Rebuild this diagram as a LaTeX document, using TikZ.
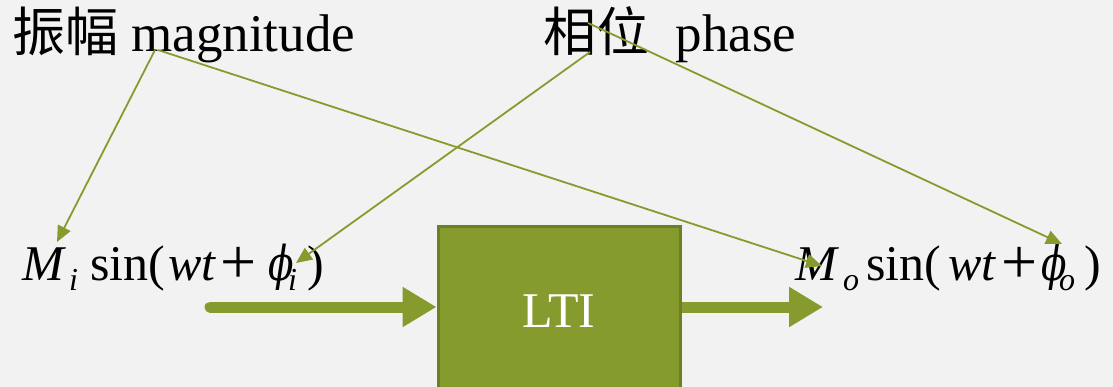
\documentclass[tikz,border=0pt]{standalone}
\usepackage{fontspec}
\setmainfont{Liberation Serif}
\newfontfamily\cjk{Noto Sans CJK SC}
\newfontfamily\dvs[FakeStretch=0.78]{DejaVu Serif}
\usetikzlibrary{arrows.meta}
\definecolor{bgc}{RGB}{242,242,242}
\definecolor{grn}{RGB}{134,155,45}
\definecolor{grndk}{RGB}{110,127,34}
\newcommand{\pos}[2]{\rlap{\hspace*{#1pt}#2}}
\newcommand{\subsc}[1]{\raisebox{-10pt}{\fontsize{32}{32}\selectfont\textit{#1}}}
\newcommand{\bigplus}{\raisebox{-3pt}{\fontsize{64}{64}\selectfont +}}
\newcommand{\phisym}{{\dvs\itshape\fontsize{48}{50}\selectfont ϕ}}
\begin{document}
\begin{tikzpicture}[x=1pt,y=-1pt,
  lbl/.style={inner sep=0pt, font=\fontsize{53}{60}\selectfont},
  frm/.style={inner sep=0pt, font=\fontsize{50}{60}\selectfont},
  thinarr/.style={grn, line width=1.8pt, -{Triangle[length=16pt,width=14pt]}},
  thickarr/.style={grn, line width=11pt, line cap=round, -{Triangle[length=34pt,width=38pt]}},
  ltibox/.style={draw=grndk, fill=grn, line width=3pt, minimum width=242pt,
    minimum height=168pt, inner sep=0pt, text=white, font=\fontsize{50}{60}\selectfont}]
\fill[bgc] (0,0) rectangle (1113,387);
\useasboundingbox (0,0) rectangle (1113,387);
% labels
\node[lbl, anchor=base west] (mag) at (12,52) {{\cjk 振幅} magnitude};
\node[lbl, anchor=base west] (pha) at (543,52) {{\cjk 相位}\ \ phase};
% formulas
\node[frm, anchor=base west] (fin) at (22,280) {%
  \pos{0}{\textit{M}}\pos{47}{\subsc{i}}\pos{68}{sin(}\pos{146}{\textit{wt}}%
  \pos{198}{\bigplus}\pos{246}{\phisym}\pos{266}{\subsc{i}}\pos{285}{)}\hspace*{300pt}};
\node[frm, anchor=base west] (fout) at (795,280) {%
  \pos{0}{\textit{M}}\pos{48}{\subsc{o}}\pos{71}{sin(}\pos{153}{\textit{wt}}%
  \pos{206}{\bigplus}\pos{246}{\phisym}\pos{264}{\subsc{o}}\pos{289}{)}\hspace*{314pt}};
% LTI box
\node[ltibox] (lti) at (559,311) {LTI};
% thick arrows
\coordinate (inS) at (210,307);
\coordinate (outE) at (823,307);
\draw[thickarr] (inS) -- (inS -| lti.west);
\draw[thickarr, line cap=butt] (outE -| lti.east) -- (outE);
% thin arrows
\coordinate (magA) at (155,50);
\coordinate (magB) at (158,50);
\coordinate (phaA) at (590,52);
\coordinate (phaB) at (588,23);
\coordinate (tMi) at (57,242);
\coordinate (tMo) at (822,266);
\coordinate (tPi) at (296,263);
\coordinate (tPo) at (1062,244);
\draw[thinarr] (magA) -- (tMi);
\draw[thinarr] (magB) -- (tMo);
\draw[thinarr] (phaA) -- (tPi);
\draw[thinarr] (phaB) -- (tPo);
\end{tikzpicture}
\end{document}
